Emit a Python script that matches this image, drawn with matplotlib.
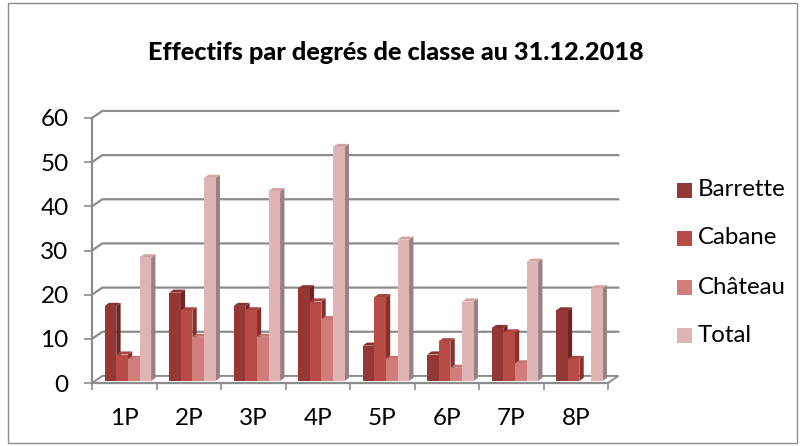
import numpy as np
import matplotlib
matplotlib.use("Agg")
import matplotlib.pyplot as plt
from matplotlib.patches import Polygon, Rectangle

# data
categories = ["1P", "2P", "3P", "4P", "5P", "6P", "7P", "8P"]
series = ["Barrette", "Cabane", "Château", "Total"]
barrette = [17, 20, 17, 21, 8, 6, 12, 16]
cabane = [6, 16, 16, 18, 19, 9, 11, 5]
chateau = [5, 10, 10, 14, 5, 3, 4, 0]
total = [28, 46, 43, 53, 32, 18, 27, 21]
values = [barrette, cabane, chateau, total]

front_cols = ["#953735", "#B84B48", "#D07D7B", "#DEB4B4"]
side_cols = ["#6E2624", "#86302E", "#9E5C5B", "#9C8081"]
top_cols = ["#8A3230", "#A8433F", "#C47472", "#D3A6A6"]
grid_col = "#8C8C8C"

plt.rcParams["font.family"] = ["Lato", "DejaVu Sans"]

fig = plt.figure(figsize=(8.01, 4.46), dpi=100)
ax = fig.add_axes([92 / 801, 1 - 383 / 446, 516 / 801, 265 / 446])
ax.set_xlim(-0.5, 7.5)
ax.set_ylim(0, 60)

# depth of walls and bars (data units)
dxw, dyw = 0.16, 1.6
dxb, dyb = 0.067, 0.7
bw = 0.18
sx, sy = (dxw - dxb) / 2, (dyw - dyb) / 2

# floor
ax.add_patch(Polygon([(-0.5, 0), (7.5, 0), (7.5 + dxw, dyw), (-0.5 + dxw, dyw)],
                     closed=True, facecolor="white", edgecolor=grid_col,
                     lw=1.4, clip_on=False, zorder=1))
# back wall grid
for v in range(10, 61, 10):
    ax.plot([-0.5, -0.5 + dxw, 7.5 + dxw], [v, v + dyw, v + dyw],
            color=grid_col, lw=1.6, clip_on=False, zorder=1)

# bars with fake 3d faces
z = 2
for c in range(len(categories)):
    for i in range(len(series)):
        v = values[i][c]
        x0 = c + (i - 2) * bw + 0.01 + sx
        x1 = x0 + bw
        y0 = sy
        y1 = v + sy
        ax.add_patch(Polygon([(x1, y0), (x1 + dxb, y0 + dyb), (x1 + dxb, y1 + dyb), (x1, y1)],
                             closed=True, facecolor=side_cols[i], lw=0, clip_on=False, zorder=z))
        if v > 0:
            ax.add_patch(Polygon([(x0, y1), (x1, y1), (x1 + dxb, y1 + dyb), (x0 + dxb, y1 + dyb)],
                                 closed=True, facecolor=top_cols[i], lw=0, clip_on=False, zorder=z))
        ax.add_patch(Rectangle((x0, y0), bw, v, facecolor=front_cols[i], lw=0,
                               clip_on=False, zorder=z + 0.5))
        z += 1

# axes styling
for s in ["top", "right"]:
    ax.spines[s].set_visible(False)
for s in ["left", "bottom"]:
    ax.spines[s].set_color(grid_col)
    ax.spines[s].set_linewidth(1.6)
    ax.spines[s].set_zorder(100)
ax.set_yticks(range(0, 61, 10))
ax.tick_params(axis="y", length=5.8, width=1.2, color=grid_col, pad=11, labelsize=17.5)
ax.set_xticks(range(len(categories)))
ax.set_xticklabels(categories)
ax.set_xticks(np.arange(-0.5, 8, 1), minor=True)
ax.tick_params(axis="x", which="major", length=0, pad=18, labelsize=17.5)
ax.tick_params(axis="x", which="minor", length=5, width=1.2, color=grid_col)

# title
fig.text(396 / 801, 1 - 52 / 446, "Effectifs par degrés de classe au 31.12.2018",
         ha="center", va="center", fontsize=18.2, fontweight="black")

# legend
ys = [190, 238, 287, 335]
for i in range(len(series)):
    fig.add_artist(Rectangle((677 / 801, 1 - (ys[i] + 7.5) / 446), 15 / 801, 15 / 446,
                             transform=fig.transFigure, facecolor=front_cols[i], lw=0))
    fig.text(698 / 801, 1 - ys[i] / 446, series[i], ha="left", va="center", fontsize=17.3)

# chart border
fig.add_artist(Rectangle((8 / 801, 3 / 446), 789 / 801, 440 / 446, transform=fig.transFigure,
                         fill=False, edgecolor=grid_col, lw=1))

plt.savefig("out.png", dpi=100)
